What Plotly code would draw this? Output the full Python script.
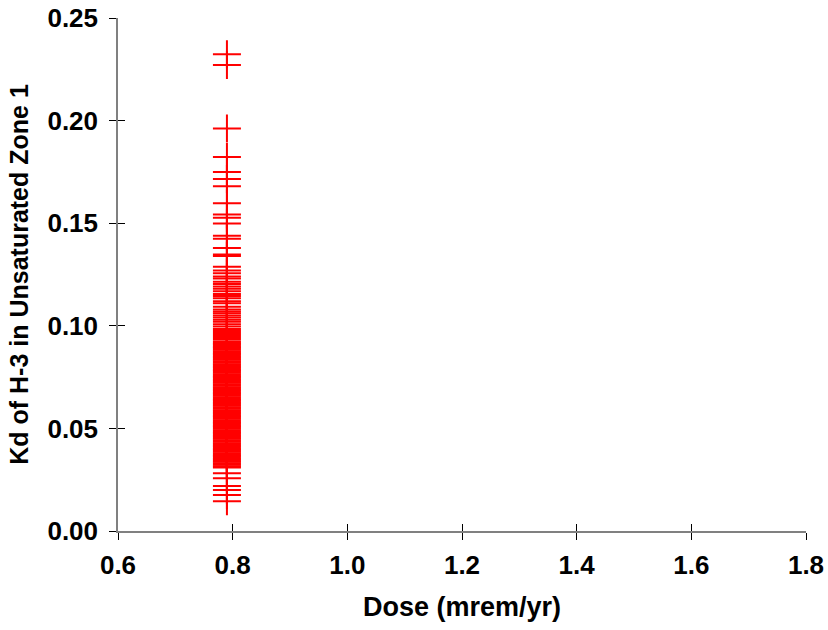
import plotly.graph_objects as go

# Kd of H-3 in Unsaturated Zone 1
kd_upper = [0.2323, 0.2271, 0.1962, 0.1823, 0.1750, 0.1715, 0.1680, 0.1597,
            0.1543, 0.1527, 0.1499, 0.1439, 0.1424, 0.1379, 0.1348, 0.1340,
            0.1288, 0.1270, 0.1256, 0.1240, 0.1231, 0.1215, 0.1204,
            0.1192, 0.1180, 0.1168, 0.1155, 0.1145, 0.1134, 0.1120, 0.1110,
            0.1093, 0.1080, 0.1070, 0.1061, 0.1050, 0.1040, 0.1030, 0.1020,
            0.1008, 0.0996, 0.0985, 0.0975, 0.0965, 0.0955, 0.0945, 0.0936]
kd_dense = [0.0925, 0.0918, 0.0911, 0.0904, 0.0897, 0.0890, 0.0883, 0.0876,
            0.0869, 0.0862, 0.0855, 0.0848, 0.0841, 0.0834, 0.0827, 0.0820,
            0.0813, 0.0806, 0.0799, 0.0792, 0.0785, 0.0778, 0.0771, 0.0764,
            0.0757, 0.0750, 0.0743, 0.0736, 0.0729, 0.0722, 0.0715, 0.0708,
            0.0701, 0.0694, 0.0687, 0.0680, 0.0673, 0.0666, 0.0659, 0.0652,
            0.0645, 0.0638, 0.0631, 0.0624, 0.0617, 0.0610, 0.0603, 0.0596,
            0.0589, 0.0582, 0.0575, 0.0568, 0.0561, 0.0554, 0.0547, 0.0540,
            0.0533, 0.0526, 0.0519, 0.0512, 0.0505, 0.0498, 0.0491, 0.0484,
            0.0477, 0.0470, 0.0463, 0.0456, 0.0449, 0.0442, 0.0435, 0.0428,
            0.0421, 0.0414, 0.0407, 0.0400, 0.0393, 0.0386, 0.0379, 0.0372,
            0.0365, 0.0358, 0.0351, 0.0344, 0.0337, 0.0330, 0.0323, 0.0316,
            0.0309]
kd_lower = [0.0281, 0.0257, 0.0219, 0.0200, 0.0175, 0.0145]

kd = kd_upper + kd_dense + kd_lower
dose_value = 0.79
dose = [dose_value] * len(kd)

x_ticks = [0.6, 0.8, 1.0, 1.2, 1.4, 1.6, 1.8]
y_ticks = [0.00, 0.05, 0.10, 0.15, 0.20, 0.25]

font_family = "Liberation Sans, Arial, sans-serif"

fig = go.Figure()
fig.add_trace(go.Scatter(
    x=dose, y=kd, mode="markers",
    marker=dict(symbol="cross-thin", size=20, line=dict(color="#ff0000", width=2)),
    showlegend=False, hoverinfo="x+y",
))
# invisible trace to activate overlay axes (inside tick half)
fig.add_trace(go.Scatter(x=[x_ticks[0]], y=[y_ticks[0]], xaxis="x2", yaxis="y2",
                         mode="markers", marker=dict(opacity=0), showlegend=False,
                         hoverinfo="skip"))

axis_common = dict(showgrid=False, zeroline=False, ticklen=7, tickwidth=1,
                   tickcolor="black", automargin=False)

fig.update_layout(
    width=828, height=630,
    margin=dict(l=118, r=22, t=18, b=99),
    paper_bgcolor="white", plot_bgcolor="white",
    font=dict(family=font_family, color="black"),
    xaxis=dict(range=[0.6, 1.8], tickvals=x_ticks,
               ticktext=[f"<b>{v:.1f}</b>" for v in x_ticks],
               ticks="outside", showline=True, linecolor="#808080", linewidth=1.5,
               tickfont=dict(size=26, family=font_family), ticklabelstandoff=3,
               ticklabeloverflow="allow",
               title=dict(text="<b>Dose (mrem/yr)</b>", font=dict(size=27), standoff=18),
               **axis_common),
    yaxis=dict(range=[0, 0.25], tickvals=y_ticks,
               ticktext=[f"<b>{v:.2f}</b>" for v in y_ticks],
               ticks="outside", showline=True, linecolor="#808080", linewidth=1.5,
               tickfont=dict(size=26, family=font_family), ticklabelstandoff=6,
               ticklabeloverflow="allow",
               title=dict(text="<b>Kd of H-3 in Unsaturated Zone 1</b>", font=dict(size=25), standoff=12),
               **axis_common),
    xaxis2=dict(overlaying="x", matches="x", range=[0.6, 1.8], tickvals=x_ticks,
                ticks="inside", showticklabels=False, showline=False, **axis_common),
    yaxis2=dict(overlaying="y", matches="y", range=[0, 0.25], tickvals=y_ticks,
                ticks="inside", showticklabels=False, showline=False, **axis_common),
)

fig.write_html("out.html",
               config={"displayModeBar": False},
               post_script="document.body.style.margin='0';document.body.style.overflow='hidden';")
